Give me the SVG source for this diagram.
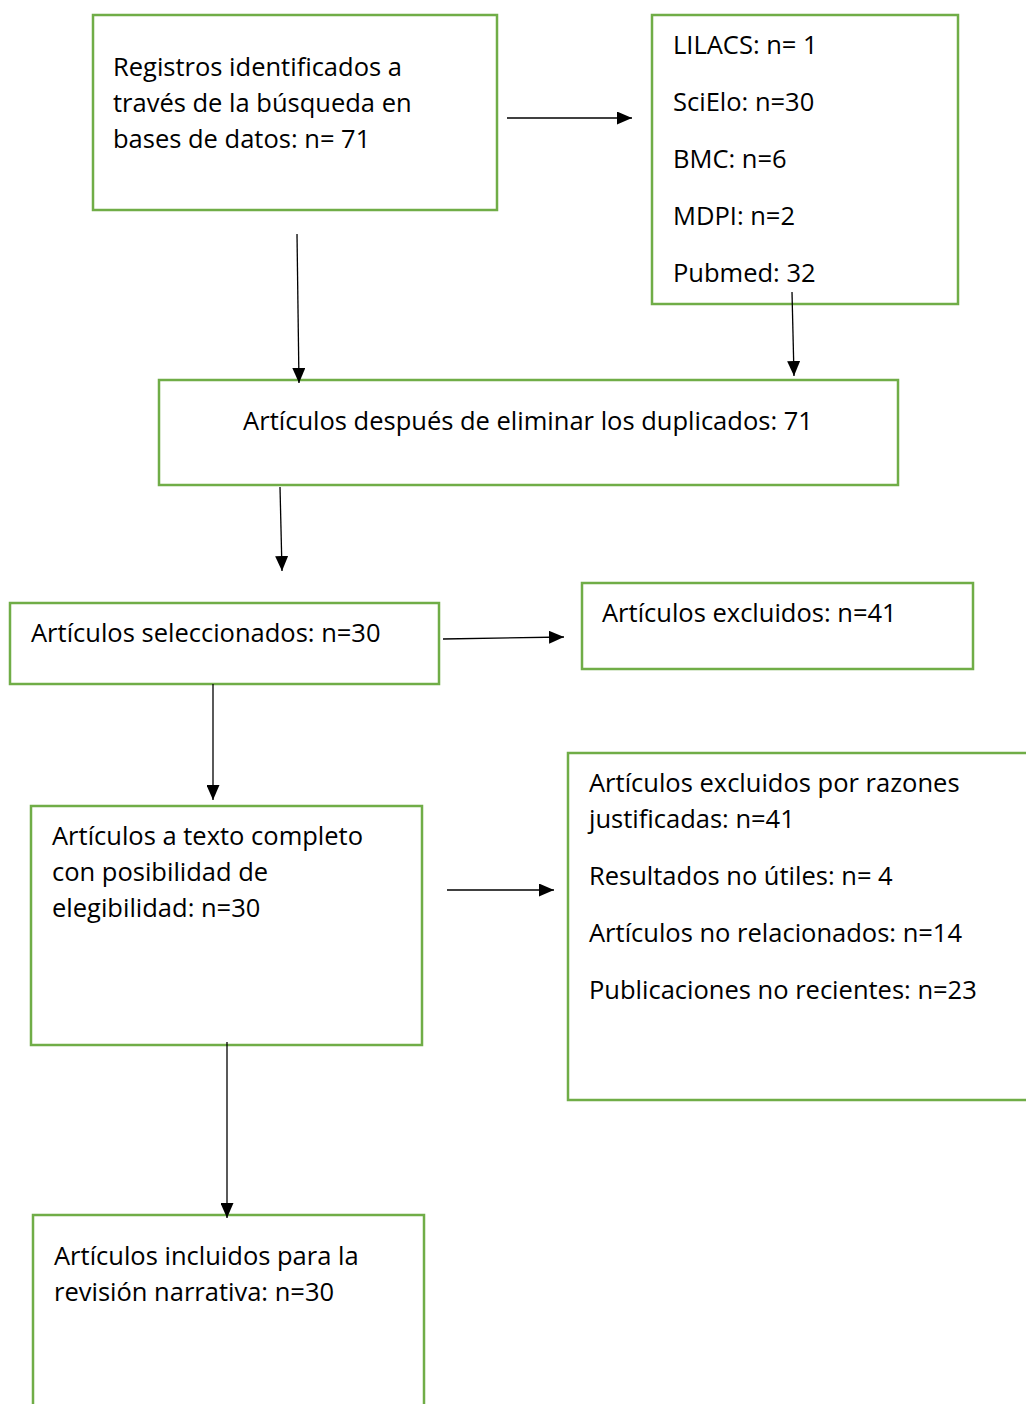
<svg xmlns="http://www.w3.org/2000/svg" width="1026" height="1404" viewBox="0 0 1026 1404">
<defs>
<marker id="ah" markerWidth="15" markerHeight="13" refX="15" refY="6.5" orient="auto" markerUnits="userSpaceOnUse" viewBox="0 0 15 13">
<path d="M0,0 L15,6.5 L0,13 z" fill="#000"/>
</marker>
<style>
.box{fill:#fff;stroke:#70AD47;stroke-width:2.5}
.t{font-family:"Open Sans","Noto Sans","Liberation Sans",sans-serif;font-size:25.5px;fill:#000}
.c{stroke:#000;stroke-width:1.3;fill:none;marker-end:url(#ah)}
</style>
</defs>
<rect width="1026" height="1404" fill="#fff"/>
<g id="n1"><rect class="box" x="93" y="15" width="404" height="195"/>
<text class="t" x="113" y="76">Registros identificados a</text>
<text class="t" x="113" y="112">través de la búsqueda en</text>
<text class="t" x="113" y="148">bases de datos: n= 71</text></g>
<g id="n2"><rect class="box" x="652" y="15" width="306" height="289"/>
<text class="t" x="673" y="54">LILACS: n= 1</text>
<text class="t" x="673" y="111">SciElo: n=30</text>
<text class="t" x="673" y="168">BMC: n=6</text>
<text class="t" x="673" y="225">MDPI: n=2</text>
<text class="t" x="673" y="282">Pubmed: 32</text></g>
<g id="n3"><rect class="box" x="159" y="380" width="739" height="105"/>
<text class="t" x="528" y="430" text-anchor="middle">Artículos después de eliminar los duplicados: 71</text></g>
<g id="n4"><rect class="box" x="10" y="603" width="429" height="81"/>
<text class="t" x="31" y="642">Artículos seleccionados: n=30</text></g>
<g id="n5"><rect class="box" x="582" y="583" width="391" height="86"/>
<text class="t" x="602" y="622">Artículos excluidos: n=41</text></g>
<g id="n6"><rect class="box" x="31" y="806" width="391" height="239"/>
<text class="t" x="52" y="845">Artículos a texto completo</text>
<text class="t" x="52" y="881">con posibilidad de</text>
<text class="t" x="52" y="917">elegibilidad: n=30</text></g>
<g id="n7"><rect class="box" x="568" y="753" width="470" height="347"/>
<text class="t" x="589" y="792">Artículos excluidos por razones</text>
<text class="t" x="589" y="828">justificadas: n=41</text>
<text class="t" x="589" y="885">Resultados no útiles: n= 4</text>
<text class="t" x="589" y="942">Artículos no relacionados: n=14</text>
<text class="t" x="589" y="999">Publicaciones no recientes: n=23</text></g>
<g id="n8"><rect class="box" x="33" y="1215" width="391" height="200"/>
<text class="t" x="54" y="1265">Artículos incluidos para la</text>
<text class="t" x="54" y="1301">revisión narrativa: n=30</text></g>
<g id="connectors">
<line class="c" x1="507" y1="118" x2="632" y2="118"/>
<line class="c" x1="297" y1="234" x2="299" y2="383"/>
<line class="c" x1="792" y1="292" x2="794" y2="376"/>
<line class="c" x1="280" y1="487" x2="282" y2="571"/>
<line class="c" x1="443" y1="639" x2="564" y2="637"/>
<line class="c" x1="213" y1="684" x2="213" y2="800"/>
<line class="c" x1="447" y1="890" x2="554" y2="890"/>
<line class="c" x1="227" y1="1042" x2="227" y2="1218"/>
</g>
</svg>
